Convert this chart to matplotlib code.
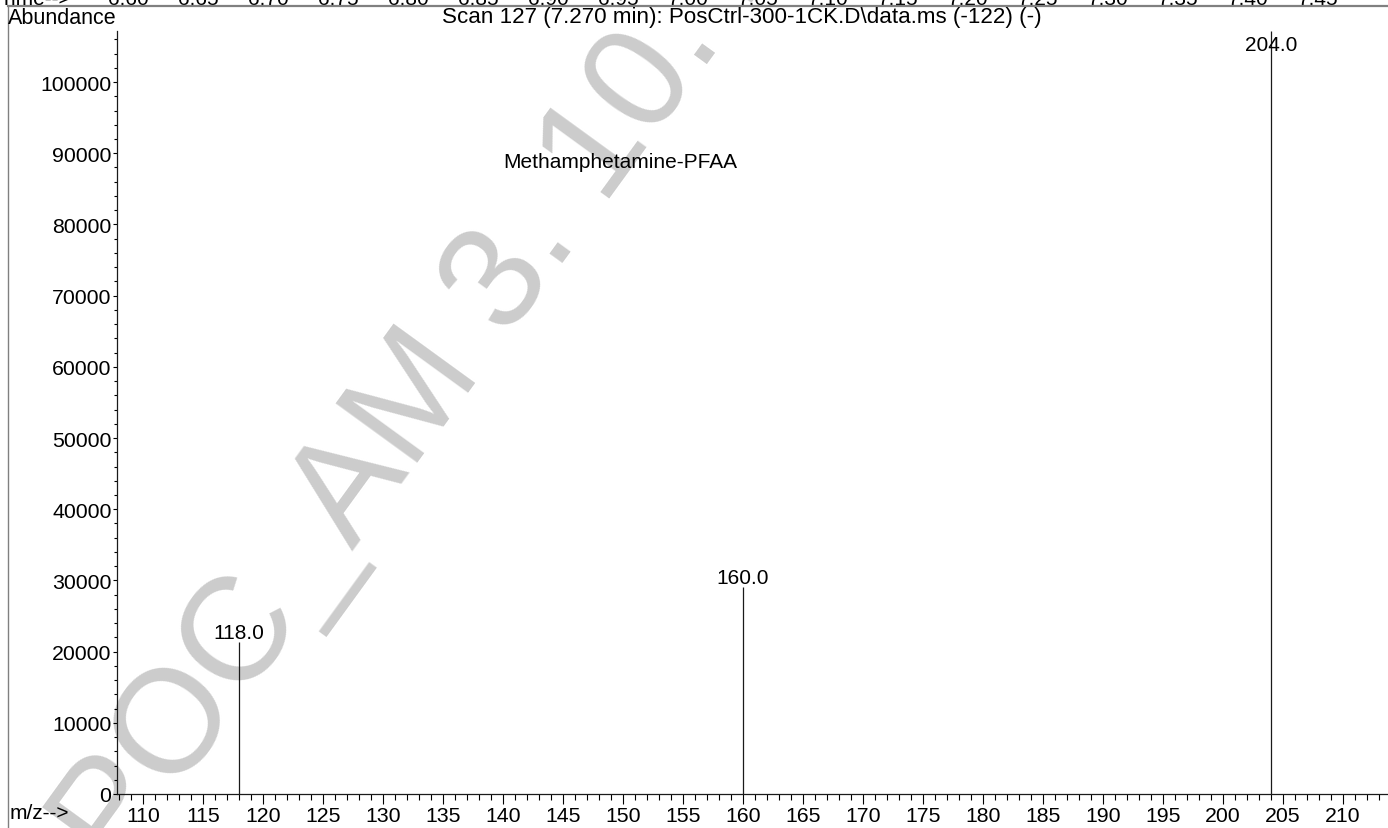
import matplotlib
matplotlib.use('Agg')
import matplotlib.pyplot as plt
import matplotlib.transforms as mtransforms
from matplotlib.lines import Line2D
from matplotlib.ticker import MultipleLocator

plt.rcParams['font.family'] = ['Liberation Sans', 'DejaVu Sans']

# Daten aus dem Spektrum (Scan 127)
mz_werte = [118.0, 160.0, 204.0]
abundanz = [21400, 29100, 107170]
peak_labels = ['118.0', '160.0', '204.0']

# Zeitachse oben (abgeschnitten)
zeit_ticks = [6.60, 6.65, 6.70, 6.75, 6.80, 6.85, 6.90, 6.95, 7.00,
              7.05, 7.10, 7.15, 7.20, 7.25, 7.30, 7.35, 7.40, 7.45]
zeit_labels = [f'{t:.2f}' for t in zeit_ticks]

titel = 'Scan 127 (7.270 min): PosCtrl-300-1CK.D\\data.ms (-122) (-)'
verbindung = 'Methamphetamine-PFAA'
wasserzeichen = 'POC_AM 3. 10. 2023'

W, H = 1388, 829
fig = plt.figure(figsize=(W / 100, H / 100), dpi=100)

# Hauptachse
ax = fig.add_axes([117 / W, 34 / H, (W - 117) / W, (795 - 32) / H])
ax.set_zorder(1)
ax.patch.set_alpha(0)
ax.vlines(mz_werte, 0, abundanz, color='#1a1a1a', lw=0.9)
ax.set_xlim(107.83, 213.75)
ax.set_ylim(0, 107170)

for s in ['top', 'right']:
    ax.spines[s].set_visible(False)
for s in ['left', 'bottom']:
    ax.spines[s].set_linewidth(0.9)
    ax.spines[s].set_color('#1a1a1a')

ax.xaxis.set_major_locator(MultipleLocator(5))
ax.xaxis.set_minor_locator(MultipleLocator(1))
ax.yaxis.set_major_locator(MultipleLocator(10000))
ax.yaxis.set_minor_locator(MultipleLocator(2000))
ax.tick_params(axis='x', which='major', length=7.5, width=0.8, pad=1.5, labelsize=15.3)
ax.tick_params(axis='x', which='minor', length=4.5, width=0.8)
ax.tick_params(axis='y', which='major', length=3, width=0.8, pad=1, labelsize=15.3)
ax.tick_params(axis='y', which='minor', length=2, width=0.8)

# Peak-Beschriftungen
ytop = ax.get_ylim()[1]
for x, y, lab in zip(mz_werte, abundanz, peak_labels):
    if y > 0.95 * ytop:
        ax.annotate(lab, (x, y), xytext=(0, -19), textcoords='offset pixels',
                    ha='center', va='baseline', fontsize=15)
    else:
        ax.annotate(lab, (x, y), xytext=(0, 4), textcoords='offset pixels',
                    ha='center', va='baseline', fontsize=15)

ax.text(149.75, 88800, verbindung, ha='center', va='center', fontsize=15)

# Texte ausserhalb der Achse
fig.text(8 / W, 1 - 18 / H, 'Abundance', ha='left', va='center', fontsize=15.5)
fig.text(742 / W, 1 - 18 / H, titel, ha='center', va='center', fontsize=16.1)
fig.text(10 / W, 1 - 814 / H, 'm/z-->', ha='left', va='center', fontsize=15)

# Zeitachse oben, nur halb sichtbar
ax_t = fig.add_axes([0, 0.99, 1, 0.01])
ax_t.axis('off')
ax_t.set_xlim(6.60 - 128 / 1400, 6.60 + (W - 128) / 1400)
trans = mtransforms.blended_transform_factory(ax_t.transData, fig.transFigure)
for t, lab in zip(zeit_ticks, zeit_labels):
    ax_t.text(t, 1 - 5 / H, lab, transform=trans, ha='center', va='baseline',
              fontsize=15, clip_on=False)
fig.text(0 / W, 1 - 5 / H, 'Time-->', ha='left', va='baseline', fontsize=15)

# Rahmenlinien
fig.add_artist(Line2D([8 / W, 1], [1 - 7 / H, 1 - 7 / H], transform=fig.transFigure,
                      color='#808080', lw=1.6))
fig.add_artist(Line2D([8 / W, 8 / W], [0, 1 - 7 / H], transform=fig.transFigure,
                      color='#808080', lw=1.0))

# Wasserzeichen
fig.text(118 / W, 1 - 876 / H, wasserzeichen, rotation=54, rotation_mode='anchor',
         ha='left', va='baseline', fontsize=106, color='#cccccc', zorder=0.5)

fig.savefig('out.png', dpi=100)
